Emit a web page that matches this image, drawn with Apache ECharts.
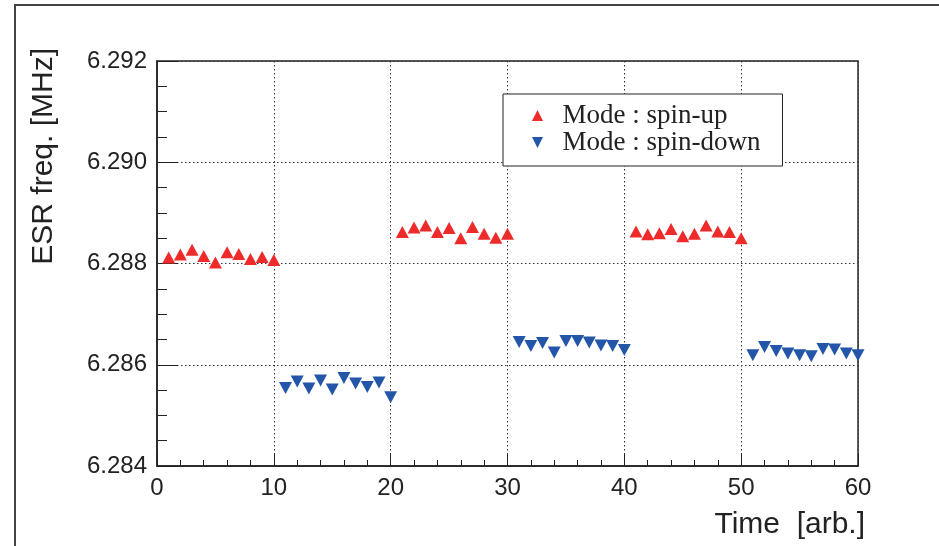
<!DOCTYPE html>
<html>
<head>
<meta charset="utf-8">
<script src="https://cdn.jsdelivr.net/npm/echarts@6/dist/echarts.min.js"></script>
<style>
  html, body { margin: 0; padding: 0; background: #fff; }
  #chart { width: 939px; height: 546px; }
</style>
</head>
<body>
<div id="chart"></div>
<script>
// ESR frequency measured in alternating spin-up / spin-down blocks
const timeUp = [1,2,3,4,5,6,7,8,9,10, 21,22,23,24,25,26,27,28,29,30, 41,42,43,44,45,46,47,48,49,50];
const freqUp = [
  6.28812, 6.28818, 6.28827, 6.28815, 6.28802, 6.28822, 6.28819, 6.28809, 6.28813, 6.28807,
  6.28862, 6.28871, 6.28875, 6.28862, 6.28870, 6.28850, 6.28872, 6.28859, 6.28851, 6.28859,
  6.28863, 6.28858, 6.28860, 6.28868, 6.28854, 6.28859, 6.28875, 6.28863, 6.28862, 6.28850
];
const timeDown = [11,12,13,14,15,16,17,18,19,20, 31,32,33,34,35,36,37,38,39,40, 51,52,53,54,55,56,57,58,59,60];
const freqDown = [
  6.28554, 6.28567, 6.28553, 6.28569, 6.28551, 6.28574, 6.28563, 6.28556, 6.28565, 6.28536,
  6.28645, 6.28637, 6.28643, 6.28624, 6.28647, 6.28647, 6.28644, 6.28638, 6.28637, 6.28629,
  6.28619, 6.28635, 6.28627, 6.28622, 6.28619, 6.28617, 6.28631, 6.28630, 6.28622, 6.28619
];
const seriesNames = ['Mode : spin-up', 'Mode : spin-down'];
const xTitle = 'Time  [arb.]';
const yTitle = 'ESR freq. [MHz]';

const pairs = (xs, ys) => xs.map((x, i) => [x, ys[i]]);

const sansFont = '"Liberation Sans", Arial, Helvetica, sans-serif';
const serifFont = '"Liberation Serif", "Times New Roman", serif';
const dotted = { color: '#333', width: 1, type: [1.5, 2.5] };
const upColor = '#ee2a2a';
const downColor = '#2356a8';
// legend icons: upward / downward pointing triangles
const upIcon = 'path://M5,0 L10,10 L0,10 Z';
const downIcon = 'path://M0,0 L10,0 L5,10 Z';

const chart = echarts.init(document.getElementById('chart'), null, { renderer: 'canvas' });
chart.setOption({
  animation: false,
  backgroundColor: '#fff',
  grid: {
    left: 157, top: 61, width: 701, height: 405,
    show: true, borderColor: '#222', borderWidth: 1.5, backgroundColor: 'transparent'
  },
  xAxis: {
    type: 'value', min: 0, max: 60, interval: 10,
    axisLine: { show: true, lineStyle: { color: '#222', width: 1.5 } },
    axisTick: { show: true, inside: true, length: 12, lineStyle: { color: '#222', width: 1 } },
    minorTick: { show: true, splitNumber: 5, length: 6, lineStyle: { color: '#222', width: 1 } },
    splitLine: { show: true, lineStyle: dotted },
    axisLabel: { fontFamily: sansFont, fontSize: 24, color: '#222', margin: 10 }
  },
  yAxis: {
    type: 'value', min: 6.284, max: 6.292, interval: 0.002,
    axisLine: { show: true, lineStyle: { color: '#222', width: 1.5 } },
    axisTick: { show: true, inside: true, length: 21, lineStyle: { color: '#222', width: 1 } },
    minorTick: { show: true, splitNumber: 4, length: 10, lineStyle: { color: '#222', width: 1 } },
    splitLine: { show: true, lineStyle: dotted },
    axisLabel: {
      fontFamily: sansFont, fontSize: 24, color: '#222', margin: 10,
      formatter: v => v.toFixed(3)
    }
  },
  legend: {
    orient: 'vertical', left: 503, top: 94,
    padding: [8, 22, 10, 29], itemGap: 0,
    itemWidth: 12, itemHeight: 11,
    borderColor: '#222', borderWidth: 1, backgroundColor: '#fff',
    data: [
      { name: seriesNames[0], icon: upIcon },
      { name: seriesNames[1], icon: downIcon }
    ],
    textStyle: {
      fontFamily: serifFont, fontSize: 27, lineHeight: 27, color: '#222',
      padding: [0, 0, 0, 14]
    }
  },
  graphic: [
    {
      type: 'rect', silent: true, z: -1,
      shape: { x: 15, y: 5, width: 940, height: 560 },
      style: { fill: 'none', stroke: '#444', lineWidth: 2 }
    },
    {
      type: 'text', silent: true,
      x: 59, y: 48, rotation: Math.PI / 2,
      style: {
        text: yTitle, font: '30px ' + sansFont, fill: '#222',
        textAlign: 'right', textVerticalAlign: 'bottom'
      }
    },
    {
      type: 'text', silent: true,
      x: 865, y: 540,
      style: {
        text: xTitle, font: '30px ' + sansFont, fill: '#222',
        textAlign: 'right', textVerticalAlign: 'bottom'
      }
    }
  ],
  series: [
    {
      name: seriesNames[0], type: 'scatter',
      symbol: 'triangle', symbolSize: [13, 12],
      itemStyle: { color: upColor, opacity: 1 },
      data: pairs(timeUp, freqUp)
    },
    {
      name: seriesNames[1], type: 'scatter',
      symbol: 'triangle', symbolSize: [13, 12], symbolRotate: 180,
      itemStyle: { color: downColor, opacity: 1 },
      data: pairs(timeDown, freqDown)
    }
  ]
});
</script>
</body>
</html>
